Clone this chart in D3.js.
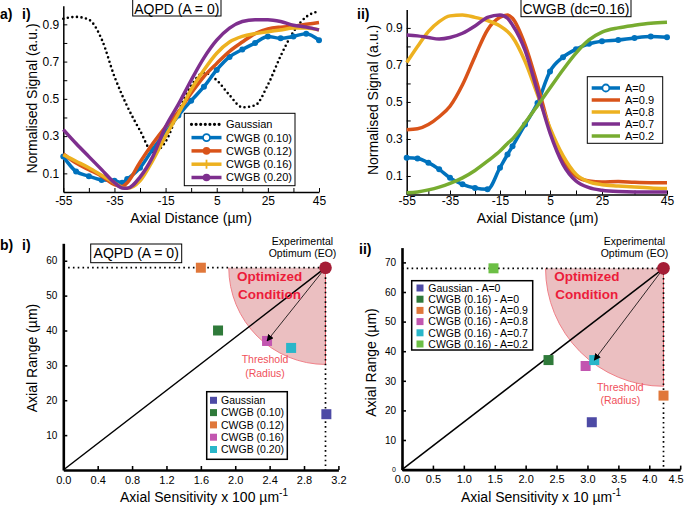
<!DOCTYPE html>
<html><head><meta charset="utf-8">
<script src="https://cdn.jsdelivr.net/npm/d3@7"></script>
<style>
body{margin:0;background:#fff;}
svg{font-family:"Liberation Sans",Arial,Helvetica,sans-serif;}
</style></head><body>
<svg id="c" width="685" height="508"></svg>
<script>
// ---------------- DATA ----------------
// a) i  AQPD (A = 0)
const distI = [-55,-50,-45,-40,-35,-32,-30,-25,-20,-15,-10,-5,0,5,10,15,20,25,30,35,40,45];
const gaussianI = [0.93,0.94,0.925,0.82,0.62,0.52,0.46,0.33,0.215,0.27,0.43,0.57,0.64,0.60,0.52,0.455,0.465,0.575,0.73,0.86,0.94,0.97];
const cwgb010 = [0.19,0.11,0.085,0.065,0.06,0.05,0.07,0.13,0.23,0.32,0.41,0.49,0.565,0.655,0.725,0.765,0.80,0.835,0.825,0.835,0.85,0.815];
const cwgb012 = [0.205,0.155,0.12,0.085,0.04,0.03,0.05,0.16,0.26,0.35,0.43,0.53,0.62,0.69,0.755,0.805,0.85,0.875,0.885,0.89,0.90,0.91];
const cwgb016 = [0.20,0.165,0.13,0.09,0.05,0.025,0.02,0.06,0.17,0.30,0.42,0.55,0.655,0.745,0.805,0.835,0.85,0.86,0.87,0.88,0.88,0.87];
const cwgb020 = [0.335,0.26,0.19,0.12,0.05,0.022,0.02,0.08,0.19,0.35,0.47,0.60,0.72,0.815,0.88,0.915,0.925,0.925,0.915,0.895,0.885,0.87];
const namesI = ["Gaussian","CWGB (0.10)","CWGB (0.12)","CWGB (0.16)","CWGB (0.20)"];

// a) ii  CWGB (dc=0.16)
const distII = [-55,-50,-45,-40,-35,-30,-25,-20,-15,-12,-10,-5,0,5,10,15,20,25,30,35,40,45];
const ampA00 = [0.198,0.195,0.172,0.136,0.09,0.055,0.035,0.028,0.145,0.216,0.26,0.378,0.494,0.665,0.742,0.785,0.814,0.828,0.835,0.846,0.853,0.85];
const ampA09 = [0.35,0.355,0.378,0.42,0.477,0.593,0.746,0.889,0.957,0.97,0.952,0.81,0.593,0.35,0.18,0.10,0.073,0.068,0.07,0.066,0.064,0.064];
const ampA08 = [0.713,0.80,0.88,0.934,0.965,0.97,0.957,0.94,0.91,0.88,0.85,0.72,0.54,0.36,0.21,0.11,0.068,0.053,0.046,0.04,0.035,0.032];
const ampA07 = [0.862,0.857,0.848,0.84,0.848,0.871,0.91,0.957,0.97,0.952,0.916,0.78,0.557,0.333,0.163,0.073,0.037,0.023,0.016,0.014,0.014,0.014];
const ampA02 = [0.01,0.014,0.025,0.04,0.06,0.09,0.13,0.18,0.235,0.276,0.30,0.387,0.48,0.575,0.674,0.764,0.835,0.877,0.90,0.914,0.925,0.93];
const namesII = ["A=0","A=0.9","A=0.8","A=0.7","A=0.2"];

const distTicks = [-55,-45,-35,-25,-15,-5,5,15,25,35,45];
const distLabels = [-55,-35,-15,5,25,45];
const signalTicks = [0.1,0.2,0.3,0.4,0.5,0.6,0.7,0.8,0.9];
const signalLabels = [0.1,0.3,0.5,0.7,0.9];

// b) i
const namesBI = ["Gaussian","CWGB (0.10)","CWGB (0.12)","CWGB (0.16)","CWGB (0.20)"];
const sensBI = [3.06,1.8,1.6,2.37,2.65];
const rangeBI = [16,40,58,37,35];
const eoBI = [3.05,58];
const sensTicksBI = [0,0.4,0.8,1.2,1.6,2.0,2.4,2.8,3.2];
const rangeTicksBI = [10,20,30,40,50,60];

// b) ii
const namesBII = ["Gaussian - A=0","CWGB (0.16) - A=0","CWGB (0.16) - A=0.9","CWGB (0.16) - A=0.8","CWGB (0.16) - A=0.7","CWGB (0.16) - A=0.2"];
const sensBII = [3.07,2.37,4.23,2.97,3.11,1.48];
const rangeBII = [16,37,25,35,37,68];
const eoBII = [4.23,68];
const sensTicksBII = [0,0.5,1.0,1.5,2.0,2.5,3.0,3.5,4.0,4.5];
const rangeTicksBII = [0,10,20,30,40,50,60,70];

// ---------------- DRAWING ----------------
const svg = d3.select("#c");
const lineColors = ["#0072BD","#D95319","#EDB120","#7E2F8E","#77AC30"];

svg.append("defs").append("marker").attr("id","arr").attr("viewBox","0 0 10 10")
  .attr("refX",9).attr("refY",5).attr("markerWidth",7).attr("markerHeight",7)
  .attr("orient","auto").attr("markerUnits","userSpaceOnUse")
  .append("path").attr("d","M0,0 L10,5 L0,10 Z").attr("fill","#000");

function styleAxis(sel, fs, w){
  sel.select(".domain").attr("stroke","#000").attr("stroke-width",w);
  sel.selectAll(".tick line").attr("stroke","#000").attr("stroke-width",Math.max(1,w*0.6));
  sel.selectAll(".tick text").attr("fill","#000").attr("font-size",fs).attr("font-family","Liberation Sans, Arial, sans-serif");
}

function titleBox(cx, x0, x1, y0, y1, txt, base){
  svg.append("rect").attr("x",x0).attr("y",y0).attr("width",x1-x0).attr("height",y1-y0)
    .attr("fill","#fff").attr("stroke","#000").attr("stroke-width",1);
  svg.append("text").attr("x",cx).attr("y",base).attr("text-anchor","middle").attr("font-size",14).text(txt);
}
function label(x,y,t,opt){
  const s = svg.append("text").attr("x",x).attr("y",y).attr("font-size",opt.fs||14).text(t);
  if(opt.bold) s.attr("font-weight","bold");
  if(opt.anchor) s.attr("text-anchor",opt.anchor);
  if(opt.rot) s.attr("transform",`rotate(-90,${x},${y})`);
  if(opt.fill) s.attr("fill",opt.fill);
  return s;
}

function linePanel(cfg){
  const x = d3.scaleLinear().domain(cfg.xDom).range(cfg.xRng);
  const y = d3.scaleLinear().domain([0,1]).range(cfg.yRng);
  const g = svg.append("g");
  const xa = g.append("g").attr("transform",`translate(0,${cfg.yRng[0]})`)
    .call(d3.axisBottom(x).tickValues(distTicks).tickSize(-4).tickSizeOuter(0).tickPadding(cfg.xPad)
      .tickFormat(d => distLabels.includes(d) ? String(d) : ""));
  styleAxis(xa,12,1.5);
  const ya = g.append("g").attr("transform",`translate(${cfg.xRng[0]},0)`)
    .call(d3.axisLeft(y).tickValues(signalTicks).tickSize(-4).tickSizeOuter(0).tickPadding(4)
      .tickFormat(d => signalLabels.some(v=>Math.abs(v-d)<1e-9) ? d.toFixed(1) : ""));
  styleAxis(ya,12,1.5);
  const line = d3.line().x((d,i)=>x(cfg.dist[i])).y(d=>y(d)).curve(d3.curveMonotoneX);
  cfg.series.forEach((s,k)=>{
    const p = g.append("path").datum(s.v).attr("d",line).attr("fill","none");
    if(s.dotted){
      p.attr("stroke","#000").attr("stroke-width",2.6).attr("stroke-dasharray","0 4.6").attr("stroke-linecap","round");
    } else {
      p.attr("stroke",s.c).attr("stroke-width",3.5).attr("stroke-linejoin","round");
    }
    if(s.markers){
      g.selectAll(null).data(s.v).join("circle").attr("cx",(d,i)=>x(cfg.dist[i])).attr("cy",d=>y(d))
        .attr("r",3).attr("fill",s.c);
    }
  });
  // legend
  const L = cfg.legend;
  svg.append("rect").attr("x",L.x0).attr("y",L.y0).attr("width",L.x1-L.x0).attr("height",L.y1-L.y0)
    .attr("fill","#fff").attr("stroke","#000").attr("stroke-width",1);
  cfg.series.forEach((s,k)=>{
    const yy = L.first + k*L.dy;
    const l = svg.append("line").attr("x1",L.lx0).attr("x2",L.lx1).attr("y1",yy).attr("y2",yy);
    if(s.dotted){ l.attr("stroke","#000").attr("stroke-width",3.2).attr("stroke-dasharray","0 4.6").attr("stroke-linecap","round"); }
    else { l.attr("stroke",s.c).attr("stroke-width",3.5); }
    const mx = (L.lx0+L.lx1)/2;
    if(s.lm==="open") svg.append("circle").attr("cx",mx).attr("cy",yy).attr("r",3.5).attr("fill","#fff").attr("stroke",s.c).attr("stroke-width",1.8);
    if(s.lm==="dot") svg.append("circle").attr("cx",mx).attr("cy",yy).attr("r",3.8).attr("fill",s.c);
    if(s.lm==="plus") svg.append("line").attr("x1",mx).attr("x2",mx).attr("y1",yy-4.5).attr("y2",yy+4.5).attr("stroke",s.c).attr("stroke-width",1.8);
    svg.append("text").attr("x",L.tx).attr("y",yy).attr("dy","0.36em").attr("font-size",11).text(s.name);
  });
}

// ---- a) i
linePanel({
  xDom:[-55,45], xRng:[63.3,319], yRng:[192,5.7], dist:distI, xPad:4,
  series:[
    {name:namesI[0], v:gaussianI, dotted:true},
    {name:namesI[1], v:cwgb010, c:lineColors[0], markers:true, lm:"open"},
    {name:namesI[2], v:cwgb012, c:lineColors[1], lm:"dot"},
    {name:namesI[3], v:cwgb016, c:lineColors[2], lm:"plus"},
    {name:namesI[4], v:cwgb020, c:lineColors[3], lm:"dot"}
  ],
  legend:{x0:184.3,x1:295,y0:113.3,y1:185.7,first:124.3,dy:13.3,lx0:191.5,lx1:221.5,tx:226}
});
// ---- a) ii  (tick positions are unevenly spaced in the reference)
linePanel({
  xDom:[-55,-35,-15,5,25,45], xRng:[406.7,450,500,550,602,667], yRng:[194.5,9.4], dist:distII, xPad:2,
  series:[
    {name:namesII[0], v:ampA00, c:lineColors[0], markers:true, lm:"open"},
    {name:namesII[1], v:ampA09, c:lineColors[1]},
    {name:namesII[2], v:ampA08, c:lineColors[2]},
    {name:namesII[3], v:ampA07, c:lineColors[3]},
    {name:namesII[4], v:ampA02, c:lineColors[4]}
  ],
  legend:{x0:587.3,x1:662.7,y0:76.7,y1:143.3,first:88,dy:12,lx0:591.7,lx1:620,tx:625}
});

titleBox(176.8,132.7,221,-1,16,"AQPD (A = 0)",13.5);
titleBox(576,521,631,-1,16.7,"CWGB (dc=0.16)",13.5);

label(37,98.5,"Normalised Signal (a.u.)",{rot:true,anchor:"middle",fs:14});
label(378,100,"Normalised Signal (a.u.)",{rot:true,anchor:"middle",fs:14});
label(191,223,"Axial Distance (µm)",{anchor:"middle",fs:14});
label(537.5,223,"Axial Distance (µm)",{anchor:"middle",fs:14});

label(0,18.5,"a)",{bold:true,fs:14});
label(22,18.5,"i)",{bold:true,fs:14});
label(357,18.5,"ii)",{bold:true,fs:14});
label(0,249.5,"b)",{bold:true,fs:14});
label(22,249.5,"i)",{bold:true,fs:14});
label(359,254,"ii)",{bold:true,fs:14});

// ---- scatter panels
const sqColorsBI = ["#4d4aa5","#2f7a3a","#e0773a","#c256b0","#29b6c9"];
const sqColorsBII = ["#4d4aa5","#2f7a3a","#e0773a","#c256b0","#29b6c9","#6cbf45"];

function scatterPanel(cfg){
  const x = d3.scaleLinear().domain(cfg.xDom).range(cfg.xRng);
  const y = d3.scaleLinear().domain(cfg.yDom).range(cfg.yRng);
  const g = svg.append("g");
  const ex = x(cfg.eo[0]), ey = y(cfg.eo[1]);
  const tx = x(cfg.sens[cfg.thr]), ty = y(cfg.range[cfg.thr]);
  const r = Math.hypot(ex-tx, ey-ty) + 3;
  // sector
  g.append("path").attr("transform",`translate(${ex},${ey})`)
    .attr("d", d3.arc().innerRadius(0).outerRadius(r).startAngle(Math.PI).endAngle(1.5*Math.PI)())
    .attr("fill","#ebbfc1");
  g.append("path").attr("d",`M${ex},${ey+r} A${r},${r} 0 0 1 ${ex-r},${ey}`)
    .attr("fill","none").attr("stroke","#f08088").attr("stroke-width",1);
  g.append("line").attr("x1",ex).attr("x2",ex).attr("y1",ey).attr("y2",ey+r).attr("stroke","#e05a64").attr("stroke-width",1);
  // axes
  const xa = g.append("g").attr("transform",`translate(0,${cfg.yRng[0]})`)
    .call(d3.axisBottom(x).tickValues(cfg.xTicks).tickSize(-4).tickSizeOuter(0).tickPadding(6)
      .tickFormat(d=>d.toFixed(1)));
  styleAxis(xa,11,2.6);
  xa.selectAll(".tick text").filter(d=>x(d)>675).attr("text-anchor","end").attr("dx",3);
  const ya = g.append("g").attr("transform",`translate(${cfg.xRng[0]},0)`)
    .call(d3.axisLeft(y).tickValues(cfg.yTicks).tickSize(-4).tickSizeOuter(0).tickPadding(6)
      .tickFormat(d=>String(d)));
  styleAxis(ya,10,2.6);
  ya.selectAll(".tick text").filter(d=>d===0).attr("font-size",7);
  // dotted guides
  g.append("line").attr("x1",x(0)).attr("x2",ex).attr("y1",ey).attr("y2",ey)
    .attr("stroke","#000").attr("stroke-width",1.7).attr("stroke-dasharray","1.6 3.2");
  g.append("line").attr("x1",ex).attr("x2",ex).attr("y1",ey).attr("y2",y(0))
    .attr("stroke","#000").attr("stroke-width",1.7).attr("stroke-dasharray","1.6 3.2");
  // line from origin
  g.append("line").attr("x1",x(0)).attr("y1",y(0)).attr("x2",ex).attr("y2",ey).attr("stroke","#000").attr("stroke-width",1.5);
  // squares
  g.selectAll(null).data(cfg.sens).join("rect")
    .attr("x",(d,i)=>x(d)-5).attr("y",(d,i)=>y(cfg.range[i])-5).attr("width",10).attr("height",10)
    .attr("fill",(d,i)=>cfg.colors[i]);
  // arrow
  g.append("line").attr("x1",ex).attr("y1",ey).attr("x2",tx).attr("y2",ty)
    .attr("stroke","#000").attr("stroke-width",0.8).attr("marker-end","url(#arr)");
  // EO
  g.append("circle").attr("cx",ex).attr("cy",ey).attr("r",6.3).attr("fill","#a51d36");
  // texts
  const T = cfg.txt;
  label(T.ox,T.oy,"Optimized",{bold:true,fs:13.5,fill:"#ec1c3a"});
  label(T.ox+1,T.oy+17.5,"Condition",{bold:true,fs:13.5,fill:"#ec1c3a"});
  label(T.tx,T.ty,"Threshold",{fs:10.5,anchor:"middle",fill:"#f0505a"});
  label(T.tx,T.ty+13.5,"(Radius)",{fs:10.5,anchor:"middle",fill:"#f0505a"});
  label(T.ex,245,"Experimental",{fs:10.5,anchor:"middle"});
  label(T.ex,257.3,"Optimum (EO)",{fs:10.5,anchor:"middle"});
  // legend
  const L = cfg.legend;
  svg.append("rect").attr("x",L.x0).attr("y",L.y0).attr("width",L.x1-L.x0).attr("height",L.y1-L.y0)
    .attr("fill","#fff").attr("stroke","#000").attr("stroke-width",1.5);
  cfg.names.forEach((n,k)=>{
    const yy = L.first + k*L.dy;
    svg.append("rect").attr("x",L.mx-3.5).attr("y",yy-3.5).attr("width",7).attr("height",7).attr("fill",cfg.colors[k]);
    svg.append("text").attr("x",L.tx).attr("y",yy).attr("dy","0.36em").attr("font-size",10.5).text(n);
  });
}

scatterPanel({
  xDom:[0,3.2], xRng:[63.3,338.4], yDom:[0,65], yRng:[470,243.3],
  xTicks:sensTicksBI, yTicks:rangeTicksBI,
  sens:sensBI, range:rangeBI, eo:eoBI, thr:3, colors:sqColorsBI, names:namesBI,
  txt:{ox:237,oy:281,tx:265,ty:363,ex:302.5},
  legend:{x0:206.7,x1:287.3,y0:391.7,y1:459.3,first:400.3,dy:12.3,mx:213.5,tx:221}
});
scatterPanel({
  xDom:[0,4.5], xRng:[402,680.2], yDom:[0,75], yRng:[469.6,247.6],
  xTicks:sensTicksBII, yTicks:rangeTicksBII,
  sens:sensBII, range:rangeBII, eo:eoBII, thr:4, colors:sqColorsBII, names:namesBII,
  txt:{ox:554.3,oy:281,tx:620.3,ty:390.5,ex:634.5},
  legend:{x0:411.7,x1:532.7,y0:280.7,y1:350,first:288,dy:11.2,mx:420,tx:428.3}
});

titleBox(136.2,90.7,181.7,244,262.7,"AQPD (A = 0)",258);

label(37,358,"Axial Range (µm)",{rot:true,anchor:"middle",fs:14});
label(376,362.5,"Axial Range (µm)",{rot:true,anchor:"middle",fs:14});
const xl1 = label(204,502,"Axial Sensitivity x 100 µm",{anchor:"middle",fs:14});
xl1.append("tspan").attr("dy",-6).attr("font-size",10).text("-1");
const xl2 = label(541,502,"Axial Sensitivity x 10 µm",{anchor:"middle",fs:14});
xl2.append("tspan").attr("dy",-6).attr("font-size",10).text("-1");
</script>
</body></html>
